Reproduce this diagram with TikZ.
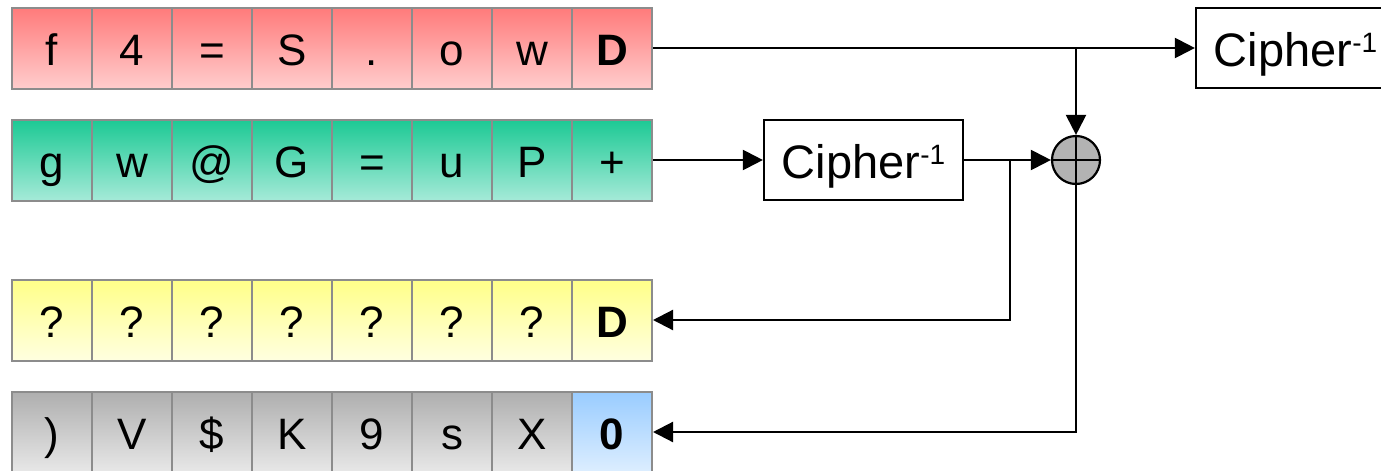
\documentclass[tikz,border=0pt]{standalone}
\usepackage{fontspec}
\setmainfont{Liberation Sans}
\usetikzlibrary{arrows.meta}

% fill colours of the four register rows
\definecolor{cellgray}{HTML}{8C8C8C}
\definecolor{redtop}{HTML}{FF7A7A}
\definecolor{redbot}{HTML}{FFCDCD}
\definecolor{greentop}{HTML}{1CC994}
\definecolor{greenbot}{HTML}{A5EAD8}
\definecolor{yellowtop}{HTML}{FFFF88}
\definecolor{yellowbot}{HTML}{FFFFE0}
\definecolor{graytop}{HTML}{AEAEAE}
\definecolor{graybot}{HTML}{E8E8E8}
\definecolor{bluetop}{HTML}{99CCFF}
\definecolor{bluebot}{HTML}{DDEEFF}
\definecolor{xorfill}{HTML}{B3B3B3}

\tikzset{
  cell/.style={draw=cellgray, line width=2pt, minimum width=80pt,
    minimum height=81pt, inner sep=0pt, text height=35pt, text depth=0pt,
    font=\fontsize{44}{44}\selectfont},
  redcell/.style={cell, top color=redtop, bottom color=redbot},
  greencell/.style={cell, top color=greentop, bottom color=greenbot},
  yellowcell/.style={cell, top color=yellowtop, bottom color=yellowbot},
  graycell/.style={cell, top color=graytop, bottom color=graybot},
  bluecell/.style={cell, top color=bluetop, bottom color=bluebot},
  cipherbox/.style={draw, line width=2.2pt, fill=white, minimum width=199pt,
    minimum height=80pt, inner sep=0pt, text height=36pt, text depth=0pt,
    font=\fontsize{47}{47}\selectfont},
  xorcircle/.style={circle, draw, fill=xorfill, line width=2.2pt,
    minimum size=48pt, inner sep=0pt},
  link/.style={line width=2.2pt},
  arr/.style={link, -{Triangle[length=20pt,width=20pt]}}
}
\newcommand{\cipherinv}{Cipher{\fontsize{28}{28}\selectfont\raisebox{14pt}{-1}}}

\begin{document}
\begin{tikzpicture}[x=1pt, y=-1pt]
  \clip (0,0) rectangle (1381,471);
  \fill[white] (0,0) rectangle (1381,471);

  % register rows (cells 1..7)
  \foreach \t [count=\i] in {f,4,=,S,.,o,w}
    \node[redcell] (r1c\i) at ({52+80*(\i-1)}, 48) {\t};
  \node[redcell] (r1c8) at (612, 48) {\textbf{D}};

  \foreach \t [count=\i] in {g,w,@,G,=,u,P,+}
    \node[greencell] (r2c\i) at ({52+80*(\i-1)}, 160) {\t};

  \foreach \t [count=\i] in {?,?,?,?,?,?,?}
    \node[yellowcell] (r3c\i) at ({52+80*(\i-1)}, 320) {\t};
  \node[yellowcell] (r3c8) at (612, 320) {\textbf{D}};

  \foreach \t [count=\i] in {),V,\$,K,9,s,X}
    \node[graycell] (r4c\i) at ({52+80*(\i-1)}, 432) {\t};
  \node[bluecell] (r4c8) at (612, 432) {\textbf{0}};

  % cipher blocks and the xor
  \node[cipherbox] (cipherA) at (1295.5, 48) {\cipherinv};
  \node[cipherbox] (cipherB) at (863.5, 160) {\cipherinv};
  \node[xorcircle] (xor) at (1076, 160) {};
  \draw[line width=1.6pt] (xor.north) -- (xor.south) (xor.west) -- (xor.east);

  % connectors
  \draw[arr] (r1c8.east) -- (cipherA.west);
  \draw[arr] (xor.north |- r1c8.east) -- (xor.north);
  \draw[arr] (r2c8.east) -- (cipherB.west);
  \draw[arr] (cipherB.east) -- (xor.west);
  \coordinate (split) at (1010, 160);
  \draw[arr] (split) |- (r3c8.east);
  \draw[arr] (xor.south) |- (r4c8.east);
\end{tikzpicture}
\end{document}
